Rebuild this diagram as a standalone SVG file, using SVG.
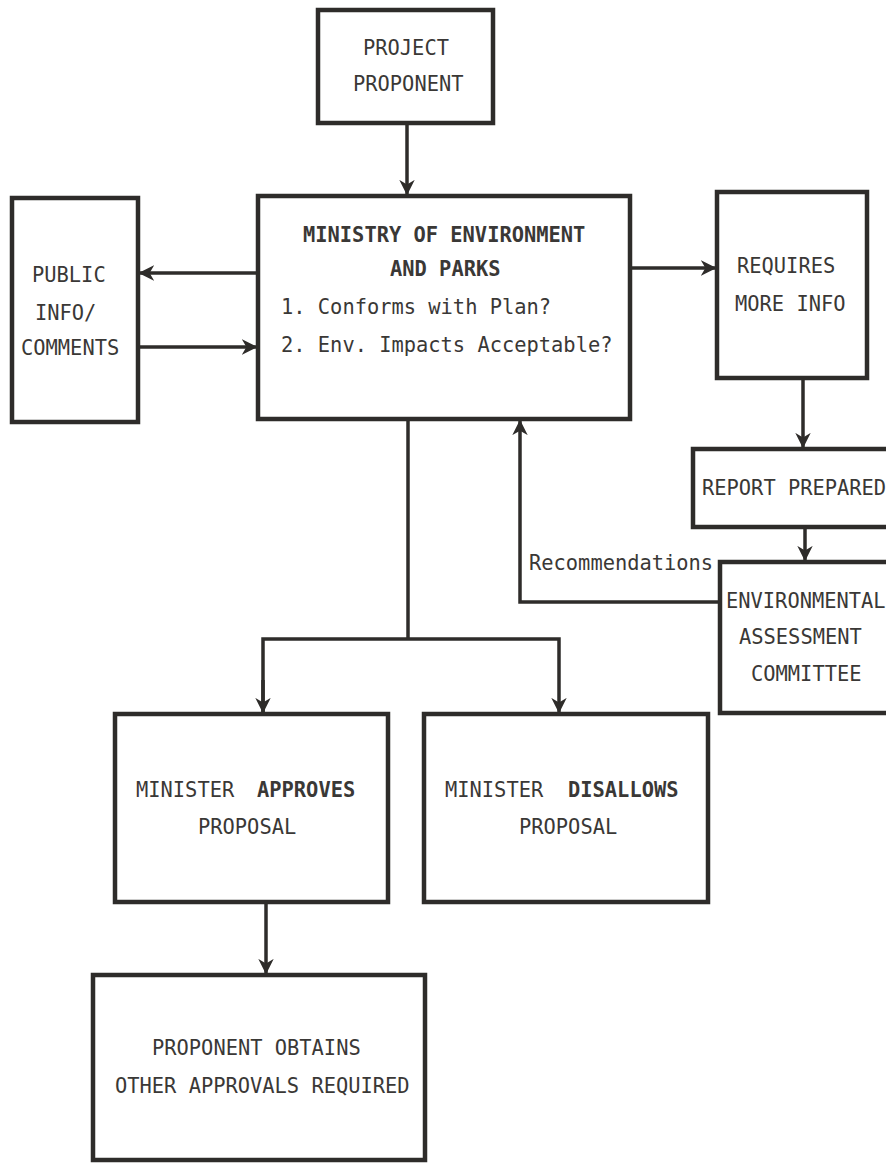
<svg xmlns="http://www.w3.org/2000/svg" width="886" height="1163" viewBox="0 0 886 1163">
<style>
.box{fill:#fff;stroke:#2e2c2a;stroke-width:4.5}
.ln{fill:none;stroke:#2e2c2a;stroke-width:3.5}
text{font-family:"DejaVu Sans Mono","Liberation Mono",monospace;font-size:20.4px;fill:#3a3836}
.b{font-weight:bold}
</style>
<defs>
<marker id="ah" viewBox="0 0 12 12" refX="11" refY="6" markerWidth="4.4" markerHeight="4.4" orient="auto" markerUnits="strokeWidth">
<path d="M0,0 L12,6 L0,12 L3.5,6 Z" fill="#2e2c2a"/>
</marker>
</defs>
<rect width="886" height="1163" fill="#fff"/>
<g id="connectors">
<line class="ln" x1="407" y1="123" x2="407" y2="194" marker-end="url(#ah)"/>
<line class="ln" x1="258" y1="273" x2="140" y2="273" marker-end="url(#ah)"/>
<line class="ln" x1="138" y1="347" x2="256" y2="347" marker-end="url(#ah)"/>
<line class="ln" x1="630" y1="268" x2="715" y2="268" marker-end="url(#ah)"/>
<line class="ln" x1="803" y1="378" x2="803" y2="447" marker-end="url(#ah)"/>
<line class="ln" x1="805" y1="527" x2="805" y2="560" marker-end="url(#ah)"/>
<polyline class="ln" points="720,602 520,602 520,421" marker-end="url(#ah)"/>
<line class="ln" x1="408" y1="419" x2="408" y2="639"/>
<polyline class="ln" points="263,712 263,639 559,639 559,712" marker-end="url(#ah)"/>
<line class="ln" x1="263" y1="680" x2="263" y2="712" marker-end="url(#ah)"/>
<line class="ln" x1="266" y1="902" x2="266" y2="973" marker-end="url(#ah)"/>
<text x="529" y="570">Recommendations</text>
</g>
<g id="project-proponent">
<rect class="box" x="318" y="10" width="175" height="113"/>
<text x="363" y="55">PROJECT</text>
<text x="353" y="91">PROPONENT</text>
</g>
<g id="ministry">
<rect class="box" x="258" y="196" width="372" height="223"/>
<text class="b" x="303" y="242">MINISTRY OF ENVIRONMENT</text>
<text class="b" x="390" y="276">AND PARKS</text>
<text x="281" y="314">1. Conforms with Plan?</text>
<text x="281" y="352">2. Env. Impacts Acceptable?</text>
</g>
<g id="public-info">
<rect class="box" x="12" y="198" width="126" height="224"/>
<text x="32" y="282">PUBLIC</text>
<text x="35" y="320">INFO/</text>
<text x="21" y="355">COMMENTS</text>
</g>
<g id="requires-more-info">
<rect class="box" x="717" y="192" width="150" height="186"/>
<text x="737" y="273">REQUIRES</text>
<text x="735" y="311">MORE INFO</text>
</g>
<g id="report-prepared">
<rect class="box" x="693" y="449" width="210" height="78"/>
<text x="702" y="495">REPORT PREPARED</text>
</g>
<g id="env-assessment-committee">
<rect class="box" x="720" y="562" width="190" height="151"/>
<text x="726" y="608">ENVIRONMENTAL</text>
<text x="739" y="644">ASSESSMENT</text>
<text x="751" y="681">COMMITTEE</text>
</g>
<g id="minister-approves">
<rect class="box" x="115" y="714" width="273" height="188"/>
<text x="136" y="797">MINISTER</text>
<text class="b" x="257" y="797">APPROVES</text>
<text x="198" y="834">PROPOSAL</text>
</g>
<g id="minister-disallows">
<rect class="box" x="424" y="714" width="284" height="188"/>
<text x="445" y="797">MINISTER</text>
<text class="b" x="568" y="797">DISALLOWS</text>
<text x="519" y="834">PROPOSAL</text>
</g>
<g id="proponent-obtains">
<rect class="box" x="93" y="975" width="332" height="185"/>
<text x="152" y="1055">PROPONENT OBTAINS</text>
<text x="115" y="1093">OTHER APPROVALS REQUIRED</text>
</g>
</svg>
